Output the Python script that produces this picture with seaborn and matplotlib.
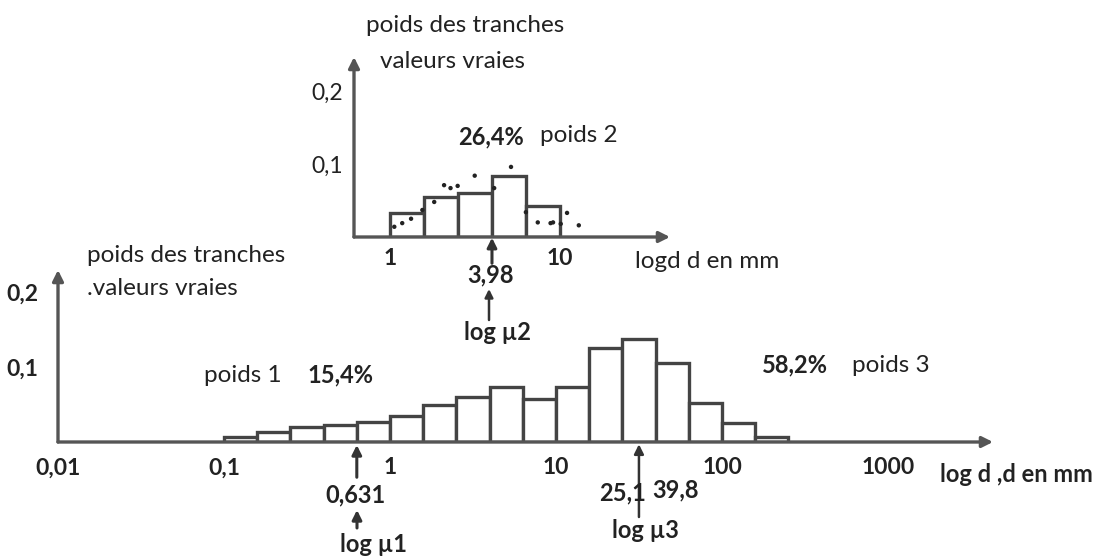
import numpy as np
import matplotlib
matplotlib.use("Agg")
import matplotlib.pyplot as plt
import seaborn as sns

# ---------------- data ----------------
# bottom histogram: classes of 0.2 decade, lower edges in mm
bot_lower_edges = [0.1, 0.158, 0.251, 0.398, 0.631, 1.0, 1.58, 2.51, 3.98, 6.31,
                   10.0, 15.8, 25.1, 39.8, 63.1, 100.0, 158.0]
bot_heights = [0.0066, 0.013, 0.020, 0.023, 0.027, 0.035, 0.050, 0.060, 0.074, 0.058,
               0.073, 0.125, 0.138, 0.105, 0.052, 0.025, 0.007]

# top histogram (population 2)
top_lower_edges = [1.0, 1.58, 2.51, 3.98, 6.31]
top_heights = [0.033, 0.055, 0.060, 0.083, 0.043]

# dotted points drawn around the top histogram
top_dots_d = [1.06, 1.18, 1.33, 1.55, 1.82, 2.08, 2.27, 2.50, 3.15, 4.10, 5.15, 6.30,
              7.40, 8.80, 9.10, 10.1, 11.0, 12.9]
top_dots_y = [0.014, 0.019, 0.025, 0.037, 0.048, 0.071, 0.067, 0.070, 0.084, 0.067,
              0.096, 0.034, 0.020, 0.019, 0.020, 0.018, 0.033, 0.016]

x_ticks_bot = [0.01, 0.1, 1, 10, 100, 1000]
x_labels_bot = ["0,01", "0,1", "1", "10", "100", "1000"]
x_ticks_top = [1, 10]
x_labels_top = ["1", "10"]
y_ticks = [0.1, 0.2]
y_labels = ["0,1", "0,2"]

# ---------------- style ----------------
sns.set_theme(style="white")
plt.rcParams['font.family'] = ['Lato', 'DejaVu Sans']
W, H = 1109, 558
fig = plt.figure(figsize=(W / 100, H / 100), dpi=100)
fig.patch.set_facecolor("white")

EDGE = "#444444"
AX = "#555555"
TXT = "#222222"
FS = 17.5      # regular text
FB = 17        # bold numbers
FT = 16.5      # tick labels

def fx(x):
    return x / W

def fy(y):
    return 1 - y / H

def rect(l, b_px, r, t_px):
    return [fx(l), fy(b_px), (r - l) / W, (b_px - t_px) / H]

# bottom axes: x=0.01 at px 58, 166 px per decade; y: 0 at 442, 750 px per unit
bl, bb = 58, 442
br, bt = 993, 270
ax_b = fig.add_axes(rect(bl, bb, br, bt))
# top axes: axis at px 354, d=1 at 390, 170 px/decade; y: 0 at 237, 730 px per unit
tl, tb = 354, 237
tr, tt = 670, 57
ax_t = fig.add_axes(rect(tl, tb, tr, tt))

for ax in (ax_b, ax_t):
    ax.set_facecolor("none")

def centers(lower):
    lower = np.asarray(lower)
    return lower * 10 ** 0.1

sns.histplot(x=centers(bot_lower_edges), weights=bot_heights, binwidth=0.2,
             binrange=(-1.0, 2.4), log_scale=True, ax=ax_b, color="white",
             edgecolor=EDGE, linewidth=2.4, alpha=1.0)
sns.histplot(x=centers(top_lower_edges), weights=top_heights, binwidth=0.2,
             binrange=(0.0, 1.0), log_scale=True, ax=ax_t, color="white",
             edgecolor=EDGE, linewidth=2.4, alpha=1.0)
sns.scatterplot(x=top_dots_d, y=top_dots_y, ax=ax_t, color="#222222", s=10,
                marker="o", edgecolor="none", zorder=5)

ax_b.set_xlim(10 ** -2, 10 ** (-2 + (br - bl) / 166))
ax_b.set_ylim(0, (bb - bt) / 750)
ax_t.set_xlim(10 ** (-(390 - tl) / 170), 10 ** ((tr - 390) / 170))
ax_t.set_ylim(0, (tb - tt) / 730)

for ax in (ax_b, ax_t):
    sns.despine(ax=ax, left=True, bottom=True, top=True, right=True)
    ax.set_xlabel("")
    ax.set_ylabel("")
    ax.grid(False)
    ax.annotate("", xy=(1, 0), xytext=(0, 0), xycoords="axes fraction",
                arrowprops=dict(arrowstyle="-|>", color=AX, lw=2.4,
                                mutation_scale=16, shrinkA=0, shrinkB=0))
    ax.annotate("", xy=(0, 1), xytext=(0, 0), xycoords="axes fraction",
                arrowprops=dict(arrowstyle="-|>", color=AX, lw=2.4,
                                mutation_scale=16, shrinkA=0, shrinkB=0))
    ax.set_yticks(y_ticks)
    ax.set_yticklabels(y_labels)
    ax.tick_params(axis="y", length=3, width=1.5, color="#999999",
                   labelsize=FT, labelcolor=TXT)
    ax.tick_params(axis="x", which="both", length=0, labelsize=FT, labelcolor=TXT)
    ax.minorticks_off()

ax_b.set_xticks(x_ticks_bot)
ax_b.set_xticklabels(x_labels_bot, fontweight="bold")
ax_b.tick_params(axis="x", pad=11)
ax_b.tick_params(axis="y", pad=11)
for lab in ax_b.get_yticklabels():
    lab.set_fontweight("bold")
ax_t.set_xticks(x_ticks_top)
ax_t.set_xticklabels(x_labels_top, fontweight="bold")
ax_t.tick_params(axis="x", pad=8)
ax_t.tick_params(axis="y", pad=5)
ax_t.minorticks_off()
ax_b.minorticks_off()

def txt(x, y, s, ha="left", bold=False, size=FS):
    fig.text(fx(x), fy(y), s, ha=ha, va="center", color=TXT, fontsize=size,
             fontweight="bold" if bold else "normal")

# top chart texts
txt(465, 25, "poids des tranches", ha="center")
txt(452, 62, "valeurs vraies", ha="center")
txt(491, 137, "26,4%", ha="center", bold=True, size=FB)
txt(540, 135, "poids 2")
txt(635, 261, "logd d en mm")
txt(491, 275, "3,98", ha="center", bold=True, size=FB)
txt(497, 333, "log µ2", ha="center", bold=True, size=FB)

# bottom chart texts
txt(87, 255, "poids des tranches")
txt(87, 289, ".valeurs vraies")
txt(204, 375, "poids 1")
txt(307, 375, "15,4%", bold=True, size=FB)
txt(762, 365, "58,2%", bold=True, size=FB)
txt(852, 365, "poids 3")
txt(940, 475, "log d ,d en mm", bold=True, size=FB)
txt(355, 495, "0,631", ha="center", bold=True, size=FB)
txt(373, 545, "log µ1", ha="center", bold=True, size=FB)
txt(646, 493, "25,1", ha="right", bold=True, size=FB)
txt(652, 490, "39,8", ha="left", bold=True, size=FB)
txt(645, 530, "log µ3", ha="center", bold=True, size=FB)

# arrows pointing at the modes
arrow_kw = dict(arrowstyle="-|>", color="#333333", lw=2.2, mutation_scale=14,
                shrinkA=0, shrinkB=0)
ax_t.annotate("", xy=(3.98, -0.001), xytext=(3.98, -0.036), arrowprops=arrow_kw,
              annotation_clip=False)
ax_b.annotate("", xy=(0.631, -0.004), xytext=(0.631, -0.047), arrowprops=arrow_kw,
              annotation_clip=False)
ax_b.annotate("", xy=(31.6, -0.003), xytext=(31.6, -0.100),
              arrowprops=dict(arrowstyle="-|>", color="#333333", lw=1.8,
                              mutation_scale=14, shrinkA=0, shrinkB=0),
              annotation_clip=False)
fig.add_artist(matplotlib.patches.FancyArrowPatch(
    (fx(357), fy(528)), (fx(357), fy(510)), transform=fig.transFigure, **arrow_kw))
fig.add_artist(matplotlib.patches.FancyArrowPatch(
    (fx(489), fy(320)), (fx(489), fy(289)), transform=fig.transFigure,
    arrowstyle="-|>", color="#333333", lw=1.8, mutation_scale=12, shrinkA=0, shrinkB=0))

fig.savefig("out.png", dpi=100, facecolor="white")
